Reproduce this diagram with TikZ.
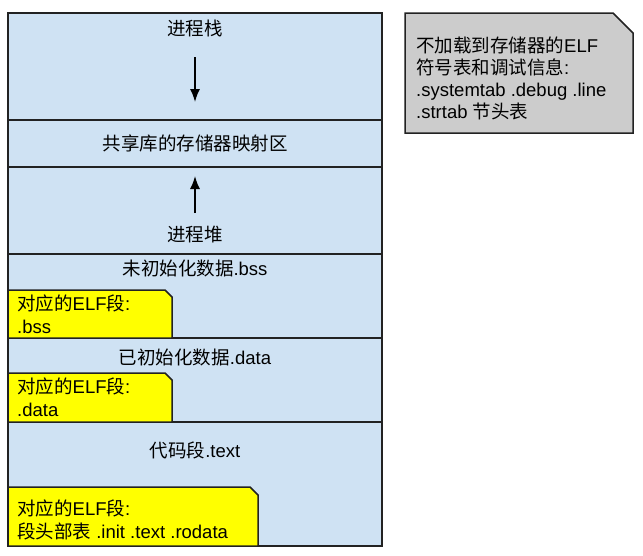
\documentclass[tikz,border=0pt]{standalone}
\usepackage{fontspec}
\setmainfont{Liberation Sans}
\newfontfamily\cjk{Noto Sans CJK SC}
\usetikzlibrary{arrows.meta, positioning}
\definecolor{segblue}{HTML}{CFE2F3}
\definecolor{elfyellow}{HTML}{FFFF00}
\definecolor{notegray}{HTML}{CCCCCC}
\definecolor{edge}{HTML}{222222}

\begin{document}
\begin{tikzpicture}[x=1pt, y=-1pt, >={Latex[length=13pt, width=10pt]},
    font=\fontsize{18.5}{22}\selectfont,
    seg/.style={draw=edge, fill=segblue, line width=1.5pt, minimum width=374pt, inner sep=0pt},
    lbl/.style={inner sep=0pt, text=black},
    ybox/.style={draw=edge, fill=elfyellow, line width=1.5pt},
    ytext/.style={inner xsep=9pt, inner ysep=0pt, align=left, anchor=west, font=\fontsize{18.5}{23}\selectfont},
    note/.style={draw=edge, fill=notegray, line width=1.5pt}]
  \useasboundingbox (0,0) rectangle (643,555);

  \foreach \name/\ya/\yb in {stack/13/120, shlib/120/167, heap/167/254, bss/254/338, data/338/422, text/422/546}
  { % one box per memory segment
    \node[seg, minimum height={(\yb-\ya)*1pt}] at (195, {(\ya+\yb)/2}) (seg-\name) {};
  };

  \node[lbl] at (195,28) (stack-lbl) {{\cjk 进程栈}};
  \node[lbl] at (195,143) (shlib-lbl) {{\cjk 共享库的存储器映射区}};
  \node[lbl] at (195,235) (heap-lbl) {{\cjk 进程堆}};
  \node[lbl] at (195,268) (bss-lbl) {{\cjk 未初始化数据}.bss};
  \node[lbl] at (195,357) (data-lbl) {{\cjk 已初始化数据}.data};
  \node[lbl] at (195,450) (text-lbl) {{\cjk 代码段}.text};

  \coordinate (stack-tail) at (195,57);
  \coordinate (stack-tip) at (195,102);
  \coordinate (heap-tail) at (195,213);
  \coordinate (heap-tip) at (195,176);
  \draw[->, line width=1.5pt] (stack-tail) -- (stack-tip);
  \draw[->, line width=1.5pt] (heap-tail) -- (heap-tip);

  % ELF sections of the loaded segments
  \draw[ybox] (8,338) -- (8,290) -- (165,290) -- (172,297) -- (172,338) -- cycle;
  \node[ytext] at (8,314) (bss-elf) {{\cjk 对应的}ELF{\cjk 段}:\\.bss};
  \draw[ybox] (8,422) -- (8,373) -- (165,373) -- (172,380) -- (172,422) -- cycle;
  \node[ytext] at (8,397) (data-elf) {{\cjk 对应的}ELF{\cjk 段}:\\.data};
  \draw[ybox] (8,546) -- (8,487) -- (250,487) -- (258,495) -- (258,546) -- cycle;
  \node[ytext] at (8,520) (text-elf) {{\cjk 对应的}ELF{\cjk 段}:\\{\cjk 段头部表} .init .text .rodata};

  \draw[note] (405,133) -- (405,13) -- (613,13) -- (633,33) -- (633,133) -- cycle;
  \node[ytext, font=\fontsize{18.5}{22}\selectfont, inner xsep=0pt] at (416,78) (note-elf)
    {{\cjk 不加载到存储器的}ELF\\{\cjk 符号表和调试信息}:\\.systemtab .debug .line\\.strtab {\cjk 节头表}};
\end{tikzpicture}
\end{document}
